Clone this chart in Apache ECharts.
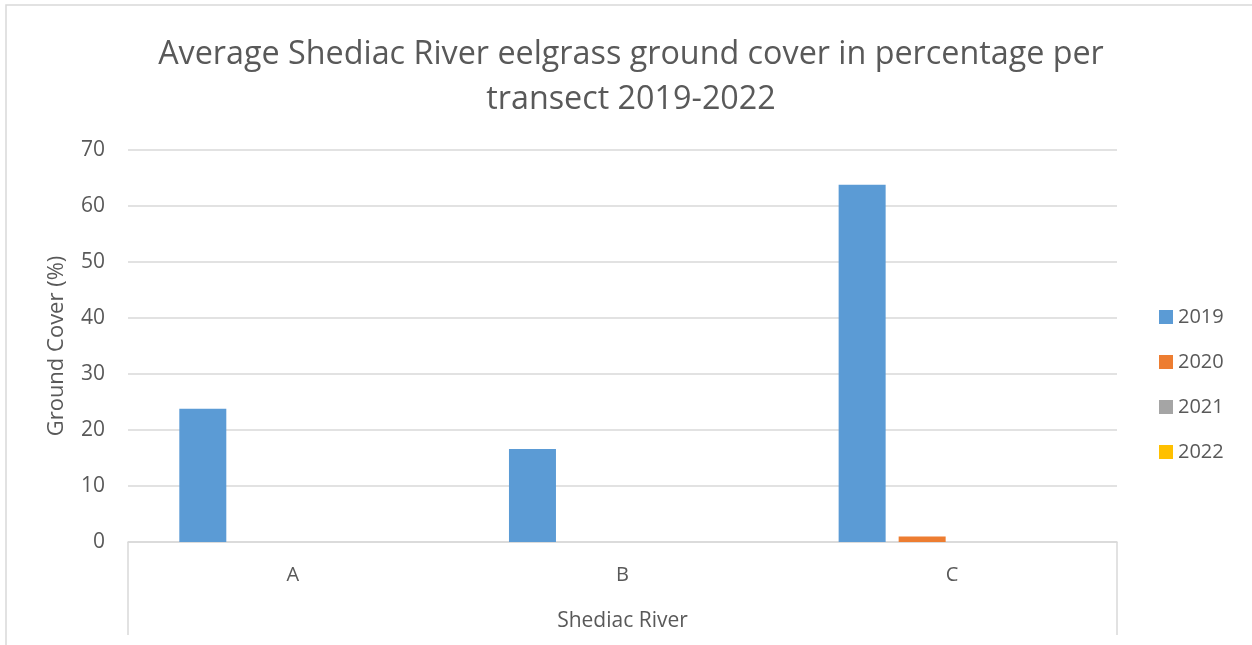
<!DOCTYPE html>
<html>
<head>
<meta charset="utf-8">
<script src="https://cdn.jsdelivr.net/npm/echarts@6/dist/echarts.min.js"></script>
<style>
  html, body { margin: 0; padding: 0; background: #fff; }
  #chart { width: 1252px; height: 645px; }
</style>
</head>
<body>
<div id="chart"></div>
<script>
// Transects along the Shediac River and the yearly average eelgrass cover (%)
const categories = ['A', 'B', 'C'];
const groupLabel = ['Shediac River'];
const years = ['2019', '2020', '2021', '2022'];
const cover2019 = [23.8, 16.6, 63.8];
const cover2020 = [0, 0, 1.0];
const cover2021 = [0, 0, 0];
const cover2022 = [0, 0, 0];
const yTicks = { min: 0, max: 70, interval: 10 };

const colors = ['#5B9BD5', '#ED7D31', '#A5A5A5', '#FFC000'];
const textColor = '#595959';
const lineColor = '#D9D9D9';
const fontFamily = '"Open Sans", sans-serif';

const chart = echarts.init(document.getElementById('chart'), null, { renderer: 'canvas' });

const seriesValues = [cover2019, cover2020, cover2021, cover2022];

chart.setOption({
  animation: false,
  color: colors,
  textStyle: { fontFamily: fontFamily, color: textColor },
  title: {
    text: 'Average Shediac River eelgrass ground cover in percentage per\ntransect 2019-2022',
    left: 626,
    textAlign: 'center',
    top: 27,
    textStyle: { fontFamily: fontFamily, fontSize: 32.3, fontWeight: 'normal', color: textColor, lineHeight: 45 }
  },
  legend: {
    orient: 'vertical',
    left: 1154,
    top: 302,
    icon: 'rect',
    itemWidth: 14,
    itemHeight: 14,
    itemGap: 25,
    data: years,
    textStyle: { fontFamily: fontFamily, fontSize: 20, color: textColor }
  },
  grid: { left: 128, right: 135, top: 150, bottom: 103, containLabel: false },
  xAxis: [
    {
      type: 'category',
      data: categories,
      axisLine: { show: true, lineStyle: { color: lineColor, width: 1.5 } },
      axisTick: { show: false },
      axisLabel: { margin: 23, fontSize: 20, color: textColor, fontFamily: fontFamily }
    },
    {
      type: 'category',
      data: groupLabel,
      position: 'bottom',
      axisLine: { show: false },
      axisTick: { show: true, length: 93, lineStyle: { color: lineColor, width: 1.5 } },
      axisLabel: { margin: 69, fontSize: 21, color: textColor, fontFamily: fontFamily }
    }
  ],
  yAxis: {
    type: 'value',
    min: yTicks.min,
    max: yTicks.max,
    interval: yTicks.interval,
    name: 'Ground Cover (%)',
    nameLocation: 'middle',
    nameGap: 60,
    nameTextStyle: { fontSize: 22, color: textColor, fontFamily: fontFamily },
    axisLine: { show: false },
    axisTick: { show: false },
    axisLabel: { margin: 23, fontSize: 21, color: textColor, fontFamily: fontFamily },
    splitLine: { lineStyle: { color: lineColor, width: 1.5 } }
  },
  series: years.map((y, i) => ({
    name: y,
    type: 'bar',
    xAxisIndex: 0,
    data: seriesValues[i],
    barWidth: 47,
    barGap: '27.7%'
  })),
  graphic: [
    {
      type: 'polyline',
      silent: true,
      shape: { points: [[6, 660], [6, 5], [1260, 5]] },
      style: { stroke: lineColor, lineWidth: 1.5, fill: null }
    }
  ]
});
</script>
</body>
</html>
